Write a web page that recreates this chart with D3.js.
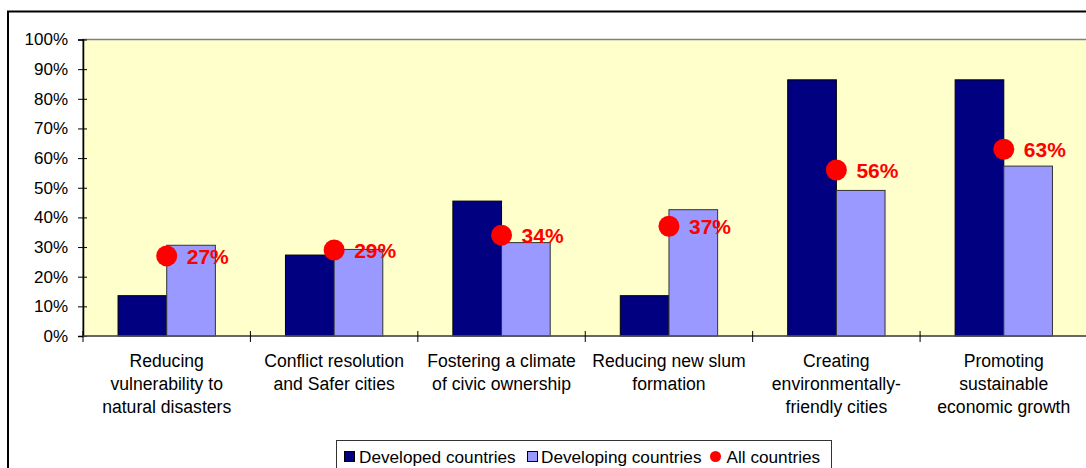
<!DOCTYPE html>
<html>
<head>
<meta charset="utf-8">
<script src="https://cdn.jsdelivr.net/npm/d3@7"></script>
<style>
  body { margin: 0; background: #fff; }
  text { font-family: "Liberation Sans", Arial, sans-serif; }
</style>
</head>
<body>
<div id="chart"></div>
<script>
// values (percent)
var categories = [
  "Reducing\nvulnerability to\nnatural disasters",
  "Conflict resolution\nand Safer cities",
  "Fostering a climate\nof civic ownership",
  "Reducing new slum\nformation",
  "Creating\nenvironmentally-\nfriendly cities",
  "Promoting\nsustainable\neconomic growth"
];
var developed = [13.6, 27.3, 45.5, 13.6, 86.4, 86.4];
var developing = [30.6, 29.2, 31.5, 42.6, 49.1, 57.3];
var allCountries = [27, 29, 34, 37, 56, 63];
var yTicks = [0, 10, 20, 30, 40, 50, 60, 70, 80, 90, 100];
var seriesNames = ["Developed countries", "Developing countries", "All countries"];

var svg = d3.select("#chart")
  .append("svg")
  .attr("width", 1086)
  .attr("height", 468);

var plot = {left: 83, right: 1087.5, top: 39.5, bottom: 336};

// outer chart frame
svg.append("rect")
  .attr("x", 8).attr("y", 11.5)
  .attr("width", 1100).attr("height", 500)
  .attr("fill", "#fff")
  .attr("stroke", "#000")
  .attr("stroke-width", 2);

// plot area
svg.append("rect")
  .attr("x", plot.left).attr("y", plot.top)
  .attr("width", plot.right - plot.left)
  .attr("height", plot.bottom - plot.top)
  .attr("fill", "#FFFFCC")
  .attr("stroke", "#808080")
  .attr("stroke-width", 1.5);

var x0 = d3.scaleBand()
  .domain(categories)
  .range([plot.left, plot.right])
  .padding(0);

var x1 = d3.scaleBand()
  .domain(["dev", "devg"])
  .range([0, x0.bandwidth()])
  .paddingInner(0)
  .paddingOuter(0.72);

var y = d3.scaleLinear()
  .domain([0, 100])
  .range([plot.bottom, plot.top]);

var data = categories.map(function(c, i) {
  return {cat: c, dev: developed[i], devg: developing[i], all: allCountries[i]};
});

// bars
var groups = svg.append("g").selectAll("g")
  .data(data)
  .enter().append("g")
  .attr("transform", function(d) { return "translate(" + x0(d.cat) + ",0)"; });

groups.append("rect")
  .attr("x", x1("dev"))
  .attr("y", function(d) { return y(d.dev); })
  .attr("width", x1.bandwidth())
  .attr("height", function(d) { return y(0) - y(d.dev); })
  .attr("fill", "#000080")
  .attr("stroke", "#000")
  .attr("stroke-width", 1);

groups.append("rect")
  .attr("x", x1("devg"))
  .attr("y", function(d) { return y(d.devg); })
  .attr("width", x1.bandwidth())
  .attr("height", function(d) { return y(0) - y(d.devg); })
  .attr("fill", "#9999FF")
  .attr("stroke", "#333")
  .attr("stroke-width", 1);

// y axis
var yAxis = svg.append("g")
  .attr("transform", "translate(" + plot.left + ",0)")
  .call(d3.axisLeft(y).tickValues(yTicks).tickFormat(function(d) { return d + "%"; })
    .tickSize(5).tickPadding(10));
yAxis.select(".domain").attr("stroke", "#000").attr("stroke-width", 1.5);
yAxis.selectAll(".tick line").attr("x1", 4).attr("x2", -5).attr("stroke", "#000");
yAxis.selectAll(".tick text")
  .attr("font-size", "17px")
  .attr("font-family", "Liberation Sans, Arial, sans-serif")
  .attr("fill", "#000");

// x axis line and ticks at category boundaries
svg.append("line")
  .attr("x1", plot.left).attr("x2", plot.right)
  .attr("y1", y(0)).attr("y2", y(0))
  .attr("stroke", "#555").attr("stroke-width", 1.5);

var bounds = categories.map(function(c) { return x0(c); }).concat([x0.range()[1]]);
svg.append("g").selectAll("line")
  .data(bounds)
  .enter().append("line")
  .attr("x1", function(d) { return d; })
  .attr("x2", function(d) { return d; })
  .attr("y1", y(0) - 5).attr("y2", y(0) + 6)
  .attr("stroke", "#000");

// category labels
var catLabels = svg.append("g").selectAll("text")
  .data(categories)
  .enter().append("text")
  .attr("text-anchor", "middle")
  .attr("font-size", "17.6px")
  .attr("fill", "#000")
  .attr("x", function(d) { return x0(d) + x0.bandwidth() / 2; })
  .attr("y", 367);

catLabels.selectAll("tspan")
  .data(function(d) { return d.split("\n"); })
  .enter().append("tspan")
  .attr("x", function() { var p = this.parentNode; return p.getAttribute("x"); })
  .attr("dy", function(d, i) { return i === 0 ? 0 : 23; })
  .text(function(d) { return d; });

// all countries markers
var pts = svg.append("g").selectAll("g")
  .data(data)
  .enter().append("g");

pts.append("circle")
  .attr("cx", function(d) { return x0(d.cat) + x0.bandwidth() / 2; })
  .attr("cy", function(d) { return y(d.all); })
  .attr("r", 10.5)
  .attr("fill", "#FF0000");

pts.append("text")
  .attr("x", function(d) { return x0(d.cat) + x0.bandwidth() / 2 + 20; })
  .attr("y", function(d) { return y(d.all); })
  .attr("dy", "0.36em")
  .attr("font-size", "21px")
  .attr("font-weight", "bold")
  .attr("fill", "#FF0000")
  .text(function(d) { return d.all + "%"; });

// legend
var lg = svg.append("g");
lg.append("rect")
  .attr("x", 336.5).attr("y", 440.5)
  .attr("width", 495).attr("height", 40)
  .attr("fill", "#fff")
  .attr("stroke", "#333")
  .attr("stroke-width", 1);

lg.append("rect")
  .attr("x", 344.5).attr("y", 451.5).attr("width", 10).attr("height", 10)
  .attr("fill", "#000080").attr("stroke", "#000");
lg.append("rect")
  .attr("x", 527.5).attr("y", 451.5).attr("width", 10).attr("height", 10)
  .attr("fill", "#9999FF").attr("stroke", "#000");
lg.append("circle")
  .attr("cx", 715.5).attr("cy", 456.5).attr("r", 5.5)
  .attr("fill", "#FF0000");

var legendX = [359, 541, 726.5];
lg.selectAll("text.leg")
  .data(seriesNames)
  .enter().append("text")
  .attr("class", "leg")
  .attr("x", function(d, i) { return legendX[i]; })
  .attr("y", 456.5)
  .attr("dy", "0.36em")
  .attr("font-size", "17.2px")
  .attr("fill", "#000")
  .text(function(d) { return d; });
</script>
</body>
</html>
